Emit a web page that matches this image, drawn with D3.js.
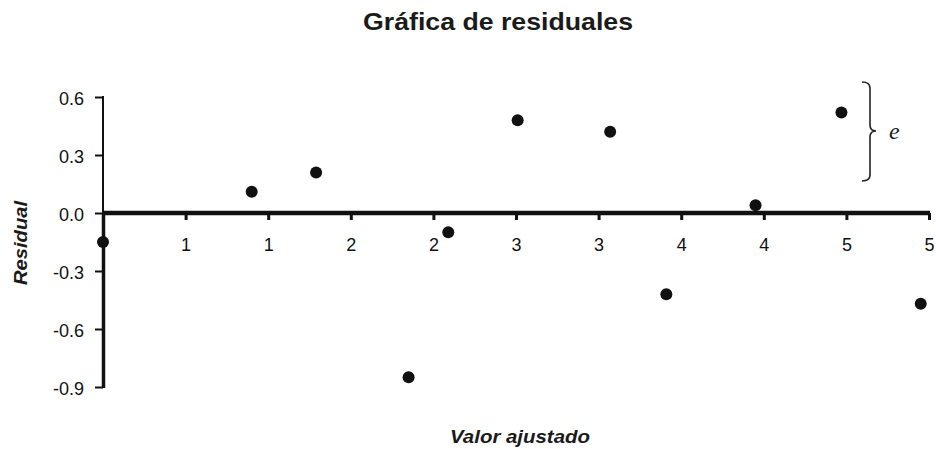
<!DOCTYPE html>
<html><head><meta charset="utf-8">
<script src="https://cdn.jsdelivr.net/npm/d3@7"></script>
<style>body{margin:0;background:#fff}svg{display:block}</style>
</head><body>
<svg id="c" width="936" height="449"></svg>
<script>
const fitted = [0.0, 0.90, 1.29, 1.85, 2.09, 2.51, 3.07, 3.41, 3.95, 4.47, 4.95];
const residuals = [-0.15, 0.11, 0.21, -0.85, -0.10, 0.48, 0.42, -0.42, 0.04, 0.52, -0.47];
const xTicks = [0.5, 1.0, 1.5, 2.0, 2.5, 3.0, 3.5, 4.0, 4.5, 5.0];
const xTickLabels = ["1", "1", "2", "2", "3", "3", "4", "4", "5", "5"];
const yTicks = [0.6, 0.3, 0.0, -0.3, -0.6, -0.9];
const yTickLabels = ["0.6", "0.3", "0.0", "-0.3", "-0.6", "-0.9"];

const svg = d3.select("#c");
const x = d3.scaleLinear().domain([0, 5]).range([103, 929]);
const y = d3.scaleLinear().domain([-0.9, 0.6]).range([387, 97]);
const font = "'Liberation Sans', Arial, sans-serif";

svg.append("text").attr("x", 498).attr("y", 30).attr("text-anchor", "middle")
  .attr("font-family", font).attr("font-weight", "bold").attr("font-size", 24)
  .attr("textLength", 270).attr("lengthAdjust", "spacingAndGlyphs")
  .attr("fill", "#1a1a1a").text("Gráfica de residuales");

// Y axis
const yAxis = d3.axisLeft(y).tickValues(yTicks).tickSize(8).tickPadding(11)
  .tickFormat((d, i) => yTickLabels[i]);
const gy = svg.append("g").attr("transform", `translate(${x(0)},0)`).call(yAxis);
gy.select(".domain").remove();
gy.selectAll(".tick line").attr("stroke", "#111").attr("stroke-width", 2);
gy.selectAll(".tick text").attr("font-family", font).attr("font-size", 18).attr("dy", "0.42em").attr("fill", "#111");
svg.append("line").attr("x1", x(0)).attr("x2", x(0)).attr("y1", y(0.6) - 1).attr("y2", y(0))
  .attr("stroke", "#111").attr("stroke-width", 2);
svg.append("line").attr("x1", x(0) + 0.5).attr("x2", x(0) + 0.5).attr("y1", y(0)).attr("y2", y(-0.9) + 1)
  .attr("stroke", "#111").attr("stroke-width", 3.5);

// X axis at y=0
const xAxis = d3.axisBottom(x).tickValues(xTicks).tickSize(7).tickPadding(18)
  .tickFormat((d, i) => xTickLabels[i]);
const gx = svg.append("g").attr("transform", `translate(0,${y(0)})`).call(xAxis);
gx.select(".domain").remove();
gx.selectAll(".tick line").attr("stroke", "#111").attr("stroke-width", 3);
gx.selectAll(".tick text").attr("font-family", font).attr("font-size", 18).attr("fill", "#111");
svg.append("line").attr("x1", x(0)).attr("x2", x(5) + 1).attr("y1", y(0)).attr("y2", y(0))
  .attr("stroke", "#111").attr("stroke-width", 4.5);

// points
svg.append("g").selectAll("circle").data(fitted).join("circle")
  .attr("cx", (d) => x(d)).attr("cy", (d, i) => y(residuals[i]))
  .attr("r", 6).attr("fill", "#111");

// axis titles
svg.append("text").attr("transform", "translate(27,243) rotate(-90)").attr("text-anchor", "middle")
  .attr("font-family", font).attr("font-weight", "bold").attr("font-style", "italic")
  .attr("font-size", 18).attr("textLength", 84).attr("lengthAdjust", "spacingAndGlyphs")
  .attr("fill", "#1a1a1a").text("Residual");
svg.append("text").attr("x", 520).attr("y", 443).attr("text-anchor", "middle")
  .attr("font-family", font).attr("font-weight", "bold").attr("font-style", "italic")
  .attr("font-size", 18).attr("textLength", 140).attr("lengthAdjust", "spacingAndGlyphs")
  .attr("fill", "#1a1a1a").text("Valor ajustado");

// brace
const bx = 862, bTop = 82, bBot = 181, bMid = 131;
svg.append("path")
  .attr("d", `M${bx},${bTop} Q${bx + 8},${bTop} ${bx + 8},${bTop + 6} L${bx + 8},${bMid - 6} Q${bx + 8},${bMid} ${bx + 14},${bMid} Q${bx + 8},${bMid} ${bx + 8},${bMid + 6} L${bx + 8},${bBot - 6} Q${bx + 8},${bBot} ${bx},${bBot}`)
  .attr("fill", "none").attr("stroke", "#222").attr("stroke-width", 1.6);
svg.append("text").attr("x", 889).attr("y", 139)
  .attr("font-family", "'Liberation Serif', 'Times New Roman', serif").attr("font-style", "italic")
  .attr("font-size", 24).attr("fill", "#222").text("e");
</script>
</body></html>
